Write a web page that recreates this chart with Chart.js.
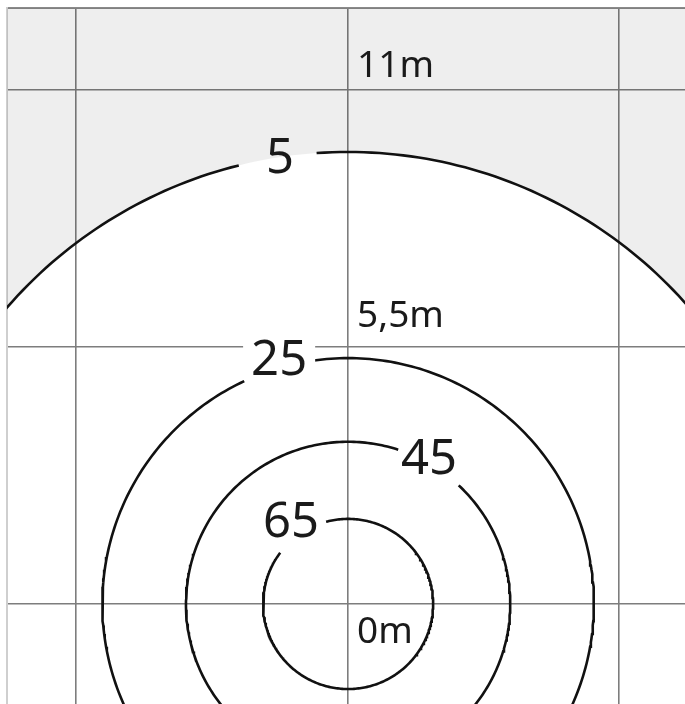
<!DOCTYPE html>
<html>
<head>
<meta charset="utf-8">
<script src="https://cdn.jsdelivr.net/npm/chart.js@4.4.1/dist/chart.umd.min.js"></script>
<style>
  html, body { margin: 0; padding: 0; background: #fff; }
  canvas { display: block; }
</style>
</head>
<body>
<canvas id="isolux" width="685" height="704"></canvas>
<script>
// isolux levels (lux) and ring radius in metres from the lamp foot
const levels = [5, 25, 45, 65];
const radii = [9.67, 5.26, 3.47, 1.82];
// angle range (deg) left open in each ring for its label
const gapFrom = [94, 98, 47, 105];
const gapTo = [104, 115, 72, 143];
// distance marks
const xTicks = [-5.82, 0, 5.80];
const yTicks = [0, 5.5, 11];
const yTickLabels = ['0m', '5,5m', '11m'];

function ring(r, a0, a1) {
    const pts = [];
    const steps = Math.ceil(a1 - a0);
    for (let i = 0; i <= steps; i++) {
        const t = (a0 + (a1 - a0) * i / steps) * Math.PI / 180;
        pts.push({ x: r * Math.cos(t), y: r * Math.sin(t) });
    }
    return pts;
}

const datasets = [];
// shaded zone below 5 lux (outside the outer ring)
datasets.push({
    data: ring(radii[0], 0, 180),
    showLine: true,
    borderWidth: 0,
    pointRadius: 0,
    backgroundColor: 'rgba(0,0,0,0.065)',
    fill: 'end',
    order: 10
});
levels.forEach((lv, i) => {
    datasets.push({
        label: lv + ' lx',
        data: ring(radii[i], gapTo[i], gapFrom[i] + 360),
        showLine: true,
        borderColor: '#111',
        borderWidth: 2.6,
        pointRadius: 0,
        fill: false,
        order: 1
    });
});

// label spots (metres)
const ringLabelX = [-1.455, -1.476, 1.733, -1.22];
const ringLabelY = [9.22, 4.90, 2.77, 1.44];
const markLabelY = [-0.835, 5.93, 11.28];

const labelPlugin = {
    id: 'isoLabels',
    afterDatasetsDraw(chart) {
        const { ctx, scales: { x, y } } = chart;
        ctx.save();
        ctx.textBaseline = 'alphabetic';
        ctx.font = '49px "Noto Sans"';
        ctx.textAlign = 'center';
        levels.forEach((lv, i) => {
            const px = x.getPixelForValue(ringLabelX[i]);
            const py = y.getPixelForValue(ringLabelY[i]);
            const txt = String(lv);
            const w = ctx.measureText(txt).width;
            ctx.fillStyle = '#fff';
            if (i === 1) ctx.fillRect(px - w / 2 - 8, py - 36, w + 16, 38);
            ctx.fillStyle = '#1a1a1a';
            ctx.fillText(txt, px, py);
        });
        ctx.font = '37px "Noto Sans"';
        ctx.textAlign = 'left';
        const x0 = x.getPixelForValue(0);
        yTickLabels.forEach((t, i) => {
            ctx.fillText(t, x0 + 9, y.getPixelForValue(markLabelY[i]));
        });
        ctx.restore();
    }
};

new Chart(document.getElementById('isolux').getContext('2d'), {
    type: 'scatter',
    data: { datasets: datasets },
    options: {
        responsive: false,
        animation: false,
        layout: { padding: { top: 8, left: 7, right: 0, bottom: 0 } },
        plugins: {
            legend: { display: false },
            tooltip: { enabled: false }
        },
        elements: { line: { tension: 0 } },
        scales: {
            x: {
                type: 'linear',
                position: 'top',
                min: -7.30,
                max: 7.21,
                afterBuildTicks: axis => { axis.ticks = xTicks.map(v => ({ value: v })); },
                ticks: { display: false },
                grid: { color: '#7d7d7d', lineWidth: 1.6, drawTicks: false },
                border: { display: true, color: '#8a8a8a', width: 2 }
            },
            y: {
                type: 'linear',
                position: 'left',
                min: -2.14,
                max: 12.75,
                afterBuildTicks: axis => { axis.ticks = yTicks.map(v => ({ value: v })); },
                ticks: { display: false },
                grid: { color: '#7d7d7d', lineWidth: 1.6, drawTicks: false },
                border: { display: true, color: '#cfcfcf', width: 2 }
            }
        }
    },
    plugins: [labelPlugin]
});
</script>
</body>
</html>
